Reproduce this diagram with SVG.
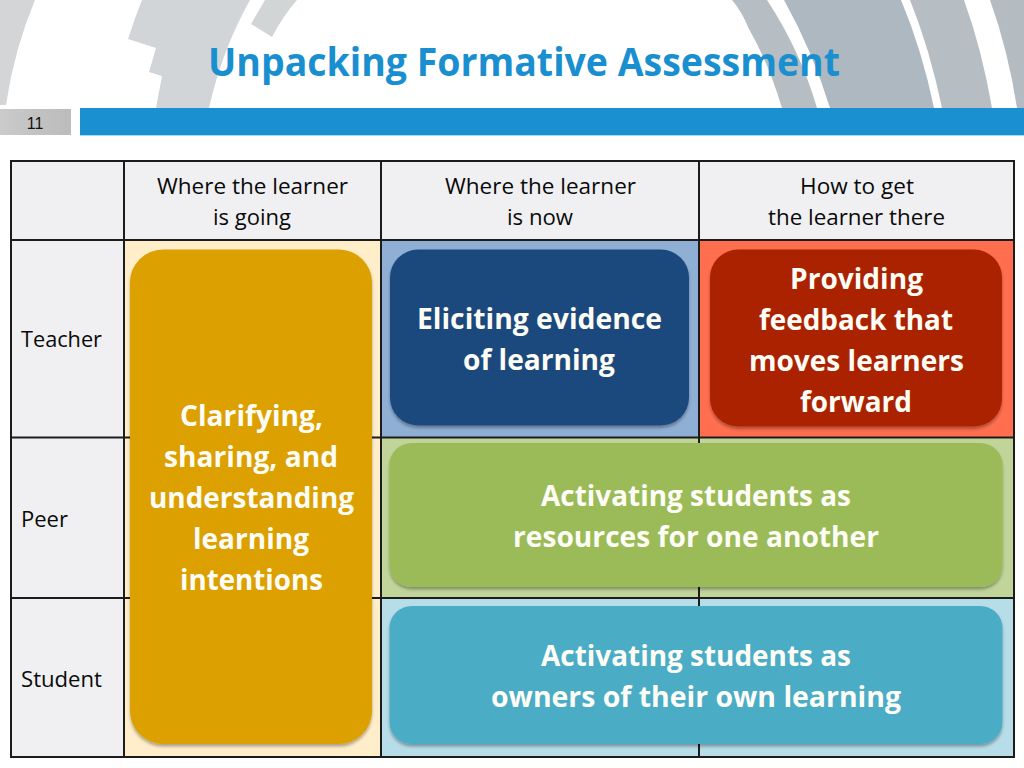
<svg xmlns="http://www.w3.org/2000/svg" width="1024" height="768" viewBox="0 0 1024 768">
  <style>
    text { font-family: "Open Sans", "Noto Sans", "Liberation Sans", sans-serif; text-anchor: start; }
    .cell { font-size: 22px; fill: #0a0a0a; }
    .big { font-size: 29px; font-weight: 700; fill: #fdfdf6; }
    .title { font-size: 39.500px; font-weight: 700; fill: #1a8fd0; }
    .grid line { stroke: #1c1c1c; stroke-width: 2; }
    .box { filter: url(#shadow); }
  </style>
  <defs>
    <filter id="shadow" x="-5%" y="-5%" width="110%" height="110%">
      <feDropShadow dx="0" dy="2.5" stdDeviation="1.6" flood-color="#000" flood-opacity="0.32"/>
    </filter>
    <linearGradient id="pg" x1="0" y1="0" x2="1" y2="0">
      <stop offset="0" stop-color="#cbcbcb"/><stop offset="0.5" stop-color="#c2c2c2"/><stop offset="1" stop-color="#bcbcbc"/>
    </linearGradient>
  </defs>

  <rect width="1024" height="768" fill="#ffffff"/>

  <g id="background-arcs">
    <path d="M0 0H35Q14 50 6 105H0Z" fill="#d3d5d6"/>
    <path d="M142 0H250Q222 50 209 108H156L162 76L149 72L156 48L128 39Q134 20 142 0Z" fill="#d1d5d7"/>
    <path d="M265 0H297Q283 16 272 37L251 24Q258 12 265 0Z" fill="#d1d5d6"/>
    <path d="M732 0H767Q800 50 817 108H782Q768 62 749 29L748 27Q742 12 732 0Z" fill="#b6bdc3"/>
    <path d="M784 0H901Q922 50 934 108H830Q812 50 784 0Z" fill="#aeb8c0"/>
    <path d="M910 0H964Q982 50 992 108H942Q930 50 910 0Z" fill="#b6bdc3"/>
    <path d="M990 0H1024V108H1017Q1008 50 990 0Z" fill="#b4bbc1"/>
  </g>

  <g id="header-bar">
    <rect x="0" y="109" width="71" height="26" fill="url(#pg)"/>
    <rect x="80" y="108" width="944" height="27" fill="#1a90d0"/>
    <rect x="80" y="135" width="944" height="1" fill="#a8dcf2"/>
    <text x="35" y="128.500" style="font-family:'Liberation Sans',sans-serif;text-anchor:middle;font-size:16px" fill="#111">11</text>
  </g>

  <text class="title" x="208" y="76" textLength="632" lengthAdjust="spacingAndGlyphs">Unpacking Formative Assessment</text>

  <g id="table">
    <rect x="11" y="161" width="1003" height="79" fill="#f0f0f2"/>
    <rect x="11" y="240" width="113" height="517" fill="#f0f0f2"/>
    <rect x="124" y="240" width="257" height="517" fill="#ffeec9"/>
    <rect x="381" y="240" width="318" height="197.500" fill="#8fafd5"/>
    <rect x="699" y="240" width="315" height="197.500" fill="#ff6e4f"/>
    <rect x="381" y="437.500" width="633" height="160.500" fill="#c1d59a"/>
    <rect x="381" y="598" width="633" height="159" fill="#b6dde8"/>
    <g class="grid">
      <line x1="10" y1="161" x2="1015" y2="161"/>
      <line x1="10" y1="240" x2="1015" y2="240"/>
      <line x1="10" y1="437.500" x2="1015" y2="437.500"/>
      <line x1="10" y1="598" x2="1015" y2="598"/>
      <line x1="10" y1="757" x2="1015" y2="757"/>
      <line x1="11" y1="160" x2="11" y2="758"/>
      <line x1="124" y1="160" x2="124" y2="758"/>
      <line x1="381" y1="160" x2="381" y2="758"/>
      <line x1="699" y1="160" x2="699" y2="758"/>
      <line x1="1014" y1="160" x2="1014" y2="758"/>
    </g>
    <text class="cell" x="157" y="194" textLength="191" lengthAdjust="spacingAndGlyphs">Where the learner</text>
    <text class="cell" x="213" y="225" textLength="78" lengthAdjust="spacingAndGlyphs">is going</text>
    <text class="cell" x="445" y="194" textLength="191" lengthAdjust="spacingAndGlyphs">Where the learner</text>
    <text class="cell" x="507" y="225" textLength="66" lengthAdjust="spacingAndGlyphs">is now</text>
    <text class="cell" x="800" y="194" textLength="114" lengthAdjust="spacingAndGlyphs">How to get</text>
    <text class="cell" x="768" y="225" textLength="177" lengthAdjust="spacingAndGlyphs">the learner there</text>
    <text class="cell" x="21" y="347" textLength="81" lengthAdjust="spacingAndGlyphs">Teacher</text>
    <text class="cell" x="21" y="527" textLength="47" lengthAdjust="spacingAndGlyphs">Peer</text>
    <text class="cell" x="21" y="687" textLength="81" lengthAdjust="spacingAndGlyphs">Student</text>
  </g>

  <g id="node-clarifying">
    <rect class="box" x="130" y="249.500" width="242" height="494.500" rx="33" fill="#dca000"/>
    <text class="big" x="180" y="426" textLength="143" lengthAdjust="spacingAndGlyphs">Clarifying,</text>
    <text class="big" x="164" y="467" textLength="174" lengthAdjust="spacingAndGlyphs">sharing, and</text>
    <text class="big" x="149" y="508" textLength="205" lengthAdjust="spacingAndGlyphs">understanding</text>
    <text class="big" x="193" y="549" textLength="116" lengthAdjust="spacingAndGlyphs">learning</text>
    <text class="big" x="180" y="590" textLength="143" lengthAdjust="spacingAndGlyphs">intentions</text>
  </g>
  <g id="node-eliciting">
    <rect class="box" x="390" y="249.500" width="299" height="176" rx="28" fill="#1f497d"/>
    <text class="big" x="417" y="329" textLength="245" lengthAdjust="spacingAndGlyphs">Eliciting evidence</text>
    <text class="big" x="463" y="370" textLength="152" lengthAdjust="spacingAndGlyphs">of learning</text>
  </g>
  <g id="node-feedback">
    <rect class="box" x="710" y="249.500" width="292" height="177" rx="28" fill="#ab2300"/>
    <text class="big" x="790" y="289" textLength="133" lengthAdjust="spacingAndGlyphs">Providing</text>
    <text class="big" x="759" y="330" textLength="194" lengthAdjust="spacingAndGlyphs">feedback that</text>
    <text class="big" x="749" y="371" textLength="215" lengthAdjust="spacingAndGlyphs">moves learners</text>
    <text class="big" x="800" y="412" textLength="112" lengthAdjust="spacingAndGlyphs">forward</text>
  </g>
  <g id="node-peers">
    <rect class="box" x="389.500" y="443" width="613" height="144" rx="22" fill="#9bbb59"/>
    <text class="big" x="541" y="506" textLength="310" lengthAdjust="spacingAndGlyphs">Activating students as</text>
    <text class="big" x="513" y="547" textLength="366" lengthAdjust="spacingAndGlyphs">resources for one another</text>
  </g>
  <g id="node-owners">
    <rect class="box" x="389.500" y="606" width="613" height="138" rx="22" fill="#4bacc6"/>
    <text class="big" x="541" y="666" textLength="310" lengthAdjust="spacingAndGlyphs">Activating students as</text>
    <text class="big" x="491" y="707" textLength="410" lengthAdjust="spacingAndGlyphs">owners of their own learning</text>
  </g>
  <g id="connectors"/>
</svg>
